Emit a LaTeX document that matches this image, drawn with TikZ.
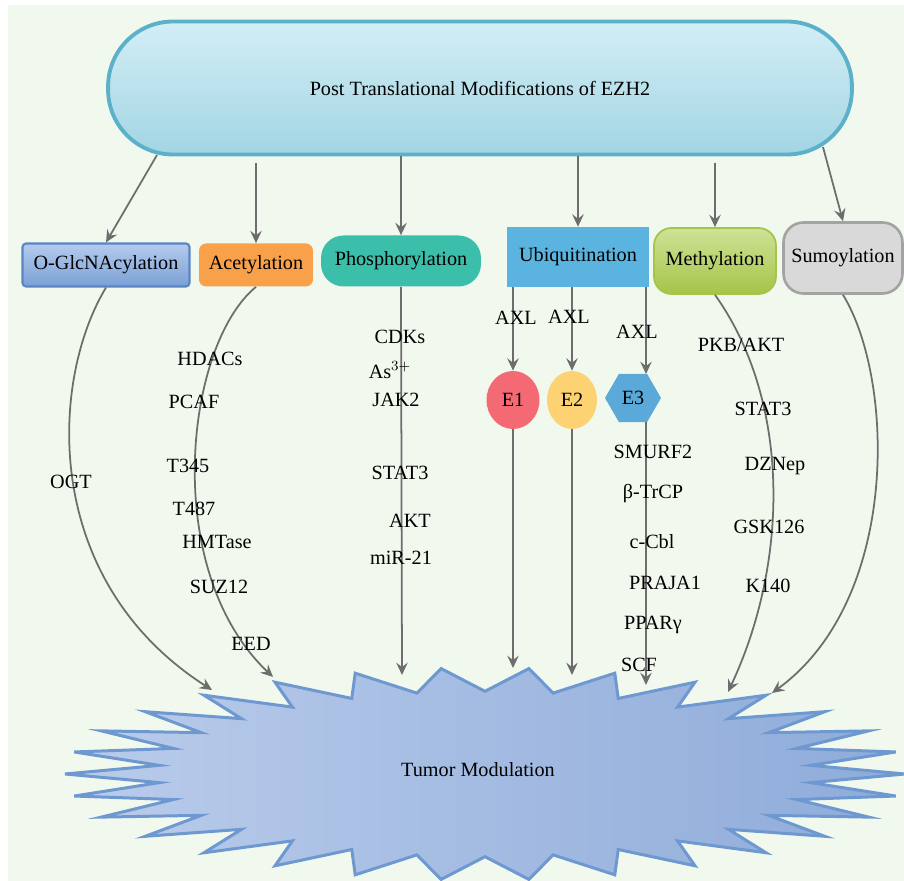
\documentclass[tikz,border=0pt]{standalone}
\usepackage{fontspec}
\setmainfont{Liberation Serif}
\usetikzlibrary{arrows.meta,shapes.geometric}
\definecolor{bgcol}{HTML}{F1F8EE}
\definecolor{arrcol}{HTML}{6D6D6D}
\definecolor{pilltop}{HTML}{D3EEF6}
\definecolor{pillbot}{HTML}{A2D5E3}
\definecolor{pillline}{HTML}{5BB0CA}
\definecolor{glctop}{HTML}{B4CCEE}
\definecolor{glcbot}{HTML}{7BA0D5}
\definecolor{glcline}{HTML}{5A85C4}
\definecolor{acetcol}{HTML}{F9A04A}
\definecolor{phoscol}{HTML}{3BBFAA}
\definecolor{ubicol}{HTML}{5AB4DF}
\definecolor{methtop}{HTML}{CFE297}
\definecolor{methbot}{HTML}{A6C448}
\definecolor{sumocol}{HTML}{D9D9D9}
\definecolor{sumoline}{HTML}{A3A3A3}
\definecolor{eonecol}{HTML}{F46A74}
\definecolor{etwocol}{HTML}{FDD272}
\definecolor{ethreecol}{HTML}{5AA9D8}
\definecolor{starl}{HTML}{BACCEB}
\definecolor{starr}{HTML}{8EABD9}
\definecolor{starline}{HTML}{6E98D0}
\tikzset{
	lbl/.style={font=\fontsize{11.5}{13}\selectfont, inner sep=1pt},
	ptmbox/.style={lbl, inner sep=0pt},
	arr/.style={draw=arrcol, line width=1pt, -{Stealth[length=7pt,width=6.5pt,inset=2.5pt]}},
}
\begin{document}
\begin{tikzpicture}[x=0.02cm,y=-0.02cm]
	\useasboundingbox (0,0) rectangle (904,881) ;
	\fill[bgcol] (8,5) rectangle (904,881) ;
	% tumor burst
	\path[draw=starline, line width=1.7pt, line join=miter, left color=starl, right color=starr]
		(905,774) \foreach \i in {1,...,59} { -- ({485+420*(1-0.22*mod(\i,2))*cos(6*\i)},{774+106*(1-0.22*mod(\i,2))*sin(6*\i)}) } -- cycle ;
	\node (tum)[lbl] at (478,770) {Tumor Modulation} ;
	% top
	\node (pill)[ptmbox, draw=pillline, line width=2.2pt, top color=pilltop, bottom color=pillbot, rounded corners=1.3cm, minimum width=14.88cm, minimum height=2.66cm] at (480,88) {Post Translational Modifications of EZH2} ;
	\node (glc)[ptmbox, draw=glcline, line width=1.2pt, top color=glctop, bottom color=glcbot, rounded corners=2pt, minimum width=3.34cm, minimum height=0.86cm] at (106,265) {O-GlcNAcylation} ;
	\node (acet)[ptmbox, fill=acetcol, rounded corners=4pt, minimum width=2.28cm, minimum height=0.86cm] at (256,265) {Acetylation} ;
	\node (phos)[ptmbox, fill=phoscol, rounded corners=0.45cm, minimum width=3.2cm, minimum height=1.02cm] at (401,261) {Phosphorylation} ;
	\node (ubi)[ptmbox, fill=ubicol, minimum width=2.86cm, minimum height=1.2cm] at (578,257) {Ubiquitination} ;
	\node (meth)[ptmbox, draw=methbot, line width=1pt, top color=methtop, bottom color=methbot, rounded corners=0.35cm, minimum width=2.44cm, minimum height=1.32cm] at (715,261) {Methylation} ;
	\node (sumo)[ptmbox, draw=sumoline, line width=1.5pt, fill=sumocol, rounded corners=0.4cm, minimum width=2.38cm, minimum height=1.42cm] at (843,258) {Sumoylation} ;
	\coordinate (pillsw) at (157,155) ;
	\coordinate (pillse) at (823,147) ;
	\draw[arr] (pillsw) -- (glc.north) ;
	\draw[arr, shorten <=0.14cm] (pill.south -| acet) -- (acet.north) ;
	\draw[arr] (pill.south -| phos) -- (phos.north) ;
	\draw[arr] (pill.south -| ubi) -- (ubi.north) ;
	\draw[arr, shorten <=0.14cm] (pill.south -| meth) -- (meth.north) ;
	\draw[arr] (pillse) -- (sumo.north) ;
	% ubiquitin enzymes
	\node (eone)[lbl, ellipse, fill=eonecol, minimum width=1.06cm, minimum height=1.16cm] at (513,400) {E1} ;
	\node (etwo)[lbl, ellipse, fill=etwocol, minimum width=1.0cm, minimum height=1.16cm] at (572,400) {E2} ;
	\node (ethree)[lbl, regular polygon, regular polygon sides=6, fill=ethreecol, minimum size=1.12cm, inner sep=0pt] at (633,398) {E3} ;
	\coordinate (ethreein) at (646,374) ;
	\coordinate (ethreeout) at (646,422) ;
	\draw[arr] (ubi.south -| eone) -- (eone.north) ;
	\draw[arr] (ubi.south -| etwo) -- (etwo.north) ;
	\draw[arr] (ubi.south -| ethreein) -- (ethreein) ;
	\node (axla)[lbl] at (516,318) {AXL} ;
	\node (axlb)[lbl] at (569,317) {AXL} ;
	\node (axlc)[lbl] at (637,332) {AXL} ;
	% ends on the burst
	\coordinate (tglc) at (212,690) ;
	\coordinate (tacet) at (273,677) ;
	\coordinate (tphos) at (402,675) ;
	\coordinate (teone) at (513,668) ;
	\coordinate (tetwo) at (572,675) ;
	\coordinate (tethree) at (646,685) ;
	\coordinate (tmeth) at (728,692) ;
	\coordinate (tsumo) at (772,693) ;
	\draw[arr] (glc.south) .. controls (50,380) and (40,580) .. (tglc) ;
	\draw[arr] (acet.south) .. controls (185,345) and (160,570) .. (tacet) ;
	\draw[arr] (phos.south) -- (tphos) ;
	\draw[arr] (eone.south) -- (teone) ;
	\draw[arr] (etwo.south) -- (tetwo) ;
	\draw[arr] (ethreeout) -- (tethree) ;
	\draw[arr] (meth.south) .. controls (790,400) and (790,560) .. (tmeth) ;
	\draw[arr] (sumo.south) .. controls (895,380) and (900,600) .. (tsumo) ;
	% labels
	\node (ogt)[lbl] at (71,482) {OGT} ;
	\node (hdacs)[lbl] at (210,359) {HDACs} ;
	\node (pcaf)[lbl] at (194,402) {PCAF} ;
	\node (tthree)[lbl] at (188,466) {T345} ;
	\node (tfour)[lbl] at (194,509) {T487} ;
	\node (hmt)[lbl] at (217,542) {HMTase} ;
	\node (suz)[lbl] at (219,587) {SUZ12} ;
	\node (eed)[lbl] at (251,644) {EED} ;
	\node (cdks)[lbl] at (400,337) {CDKs} ;
	\node (as)[lbl] at (390,370) {As$^{3+}$} ;
	\node (jak)[lbl] at (396,400) {JAK2} ;
	\node (stata)[lbl] at (400,473) {STAT3} ;
	\node (akt)[lbl] at (410,521) {AKT} ;
	\node (mir)[lbl] at (401,558) {miR-21} ;
	\node (smurf)[lbl] at (653,452) {SMURF2} ;
	\node (btrcp)[lbl] at (653,494) {β-TrCP} ;
	\node (ccbl)[lbl] at (652,542) {c-Cbl} ;
	\node (praja)[lbl] at (665,583) {PRAJA1} ;
	\node (ppar)[lbl] at (653,625) {PPARγ} ;
	\node (scf)[lbl] at (639,665) {SCF} ;
	\node (pkb)[lbl] at (741,345) {PKB/AKT} ;
	\node (statb)[lbl] at (763,409) {STAT3} ;
	\node (dznep)[lbl] at (775,466) {DZNep} ;
	\node (gsk)[lbl] at (769,527) {GSK126} ;
	\node (kone)[lbl] at (768,586) {K140} ;
\end{tikzpicture}
\end{document}
